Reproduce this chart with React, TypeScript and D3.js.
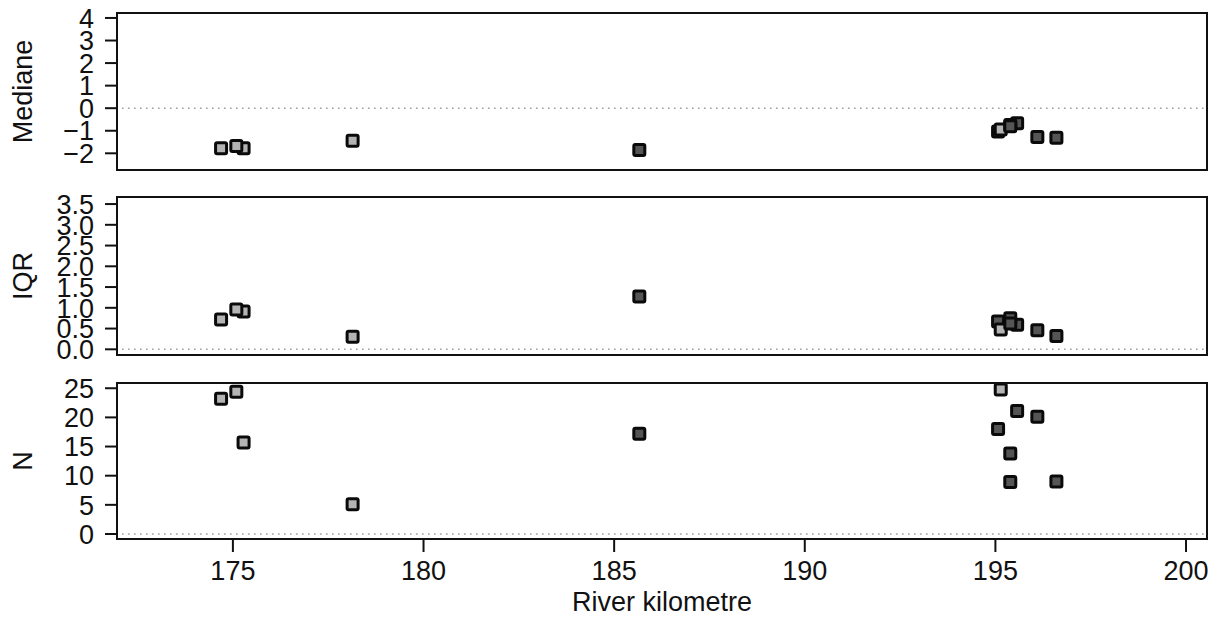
import React from "react";
import * as d3 from "d3";

// Data, drawing order preserved
const km = [175.28, 174.69, 175.09, 178.14, 185.66, 195.57, 195.07, 195.14, 195.39, 195.39, 196.1, 196.6];
const group = ["up", "up", "up", "up", "down", "down", "down", "up", "down", "down", "down", "down"];
const mediane = [-1.78, -1.78, -1.68, -1.44, -1.85, -0.67, -1.03, -0.94, -0.74, -0.8, -1.28, -1.31];
const iqr = [0.91, 0.72, 0.96, 0.3, 1.27, 0.59, 0.67, 0.48, 0.75, 0.62, 0.46, 0.32];
const nObs = [15.7, 23.2, 24.4, 5.1, 17.2, 21.1, 18.0, 24.8, 13.8, 8.9, 20.1, 9.0];

const xTicks = [175, 180, 185, 190, 195, 200];
const medianeTicks = [-2, -1, 0, 1, 2, 3, 4];
const iqrTicks = [0, 0.5, 1, 1.5, 2, 2.5, 3, 3.5];
const nTicks = [0, 5, 10, 15, 20, 25];

const W = 1218;
const H = 621;
const left = 117;
const right = 1207;
const FONT = "'Liberation Sans', Arial, Helvetica, sans-serif";
const FS = 27;

const x = d3.scaleLinear().domain([171.96, 200.55]).range([left, right]);

const panels = [
  { label: "Mediane", values: mediane, ticks: medianeTicks, fmt: (v: number) => String(v).replace("-", "\u2212"), domain: [-2.74, 4.22], top: 13, bottom: 170 },
  { label: "IQR", values: iqr, ticks: iqrTicks, fmt: (v: number) => d3.format(".1f")(v), domain: [-0.137, 3.67], top: 197, bottom: 355 },
  { label: "N", values: nObs, ticks: nTicks, fmt: (v: number) => String(v), domain: [-0.86, 25.9], top: 383, bottom: 539 },
];

const fillFor = (g: string) => (g === "up" ? "#b4b4b4" : "#555555");

export default function App() {
  return (
    <svg width={W} height={H} style={{ position: "absolute", left: 0, top: 0, background: "#fff" }} fontFamily={FONT}>
      {panels.map((p, pi) => {
        const y = d3.scaleLinear().domain(p.domain).range([p.bottom, p.top]);
        const midY = (p.top + p.bottom) / 2;
        return (
          <g key={pi}>
            {/* zero reference line */}
            <line x1={left + 5} x2={right - 2} y1={y(0)} y2={y(0)} stroke="#a0a0a0" strokeWidth={1.6} strokeDasharray="1.6,4.4" />
            {/* y ticks */}
            {p.ticks.map((t) => (
              <g key={t}>
                <line x1={left - 12} x2={left} y1={y(t)} y2={y(t)} stroke="#111" strokeWidth={2} />
                <text x={94} y={y(t)} dy="0.36em" textAnchor="end" fontSize={FS} fill="#111">
                  {p.fmt(t)}
                </text>
              </g>
            ))}
            {/* y label */}
            <text transform={`translate(32,${midY}) rotate(-90)`} textAnchor="middle" fontSize={FS} fill="#111">
              {p.label}
            </text>
            {/* points */}
            {p.values.map((v, i) => (
              <rect
                key={i}
                x={x(km[i]) - 5.5}
                y={y(v) - 5.5}
                width={11}
                height={11}
                rx={1.5}
                fill={fillFor(group[i])}
                stroke="#0a0a0a"
                strokeWidth={3}
              />
            ))}
            {/* frame */}
            <rect x={left} y={p.top} width={right - left} height={p.bottom - p.top} fill="none" stroke="#111" strokeWidth={2} />
          </g>
        );
      })}
      {/* x axis on bottom panel */}
      {xTicks.map((t) => (
        <g key={t}>
          <line x1={x(t)} x2={x(t)} y1={539} y2={552} stroke="#111" strokeWidth={2} />
          <text x={x(t)} y={580} textAnchor="middle" fontSize={FS} fill="#111">
            {t}
          </text>
        </g>
      ))}
      <text x={(left + right) / 2} y={611} textAnchor="middle" fontSize={FS} fill="#111">
        River kilometre
      </text>
    </svg>
  );
}
